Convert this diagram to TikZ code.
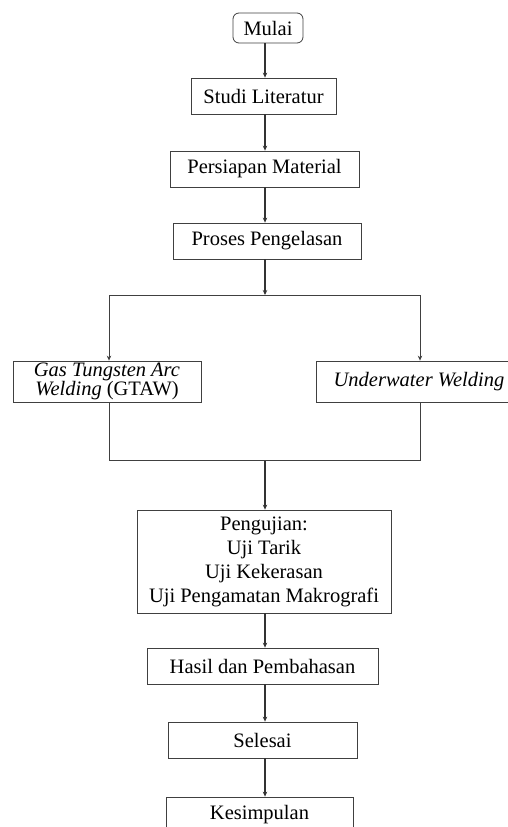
\documentclass[tikz,border=0pt]{standalone}
\usepackage{fontspec}
\setmainfont{Liberation Serif}
\usetikzlibrary{arrows.meta}
\begin{document}
\begin{tikzpicture}[x=1pt,y=-1pt,
  box/.style={draw=black!75, line width=0.8pt, fill=white, inner sep=0pt, align=center,
     font=\fontsize{20.5}{24}\selectfont, text=black},
  arr/.style={draw=black!80, line width=1.3pt, -{Stealth[length=5pt,width=4.5pt]}},
  thinarr/.style={draw=black!75, line width=0.8pt, -{Stealth[length=5pt,width=4.5pt]}},
  ln/.style={draw=black!75, line width=0.8pt}]
\useasboundingbox (0,0) rectangle (508,827);
\coordinate (sx) at (265,0);
\node[box, rounded corners=6pt, minimum width=70pt, minimum height=30pt] (mulai) at (268,28) {Mulai};
\node[box, minimum width=145pt, minimum height=36pt] (studi) at (263.5,96) {Studi Literatur};
\node[box, minimum width=189pt, minimum height=36pt] (persiapan) at (264.5,169) {Persiapan Material};
\node[box, minimum width=188pt, minimum height=36pt] (proses) at (267,241) {Proses Pengelasan};
\node[box, minimum width=188pt, minimum height=41pt, font=\fontsize{20.5}{17}\selectfont] (gtaw) at (107,381.5) {\textit{Gas Tungsten Arc}\\\textit{Welding} (GTAW)};
\node[box, minimum width=206pt, minimum height=41pt] (uw) at (419,381.5) {\textit{Underwater Welding}};
\node[box, minimum width=254pt, minimum height=103pt] (uji) at (264,561.5) {Pengujian:\\Uji Tarik\\Uji Kekerasan\\Uji Pengamatan Makrografi};
\node[box, minimum width=231pt, minimum height=36pt] (hasil) at (262.5,666) {Hasil dan Pembahasan};
\node[box, minimum width=189pt, minimum height=36pt] (selesai) at (262.5,740) {Selesai};
\node[box, minimum width=187pt, minimum height=36pt] (kesimpulan) at (259.5,815) {Kesimpulan};

\coordinate (split) at (265,295);
\coordinate (splitL) at (109,295);
\coordinate (splitR) at (420,295);
\coordinate (joinL) at (109,460);
\coordinate (joinR) at (420,460);
\coordinate (join) at (265,461);

\draw[arr] (mulai.south -| sx) -- (studi.north -| sx);
\draw[arr] (studi.south -| sx) -- (persiapan.north -| sx);
\draw[arr] (persiapan.south -| sx) -- (proses.north -| sx);
\draw[arr] (proses.south -| sx) -- (split);
\draw[ln] (splitL) -- (splitR);
\draw[thinarr] (splitL) -- (gtaw.north -| splitL);
\draw[thinarr] (splitR) -- (uw.north -| splitR);
\draw[ln] (gtaw.south -| joinL) -- (joinL) -- (joinR) -- (uw.south -| joinR);
\draw[arr] (join) -- (uji.north -| sx);
\draw[arr] (uji.south -| sx) -- (hasil.north -| sx);
\draw[arr] (hasil.south -| sx) -- (selesai.north -| sx);
\draw[arr] (selesai.south -| sx) -- (kesimpulan.north -| sx);
\end{tikzpicture}
\end{document}
